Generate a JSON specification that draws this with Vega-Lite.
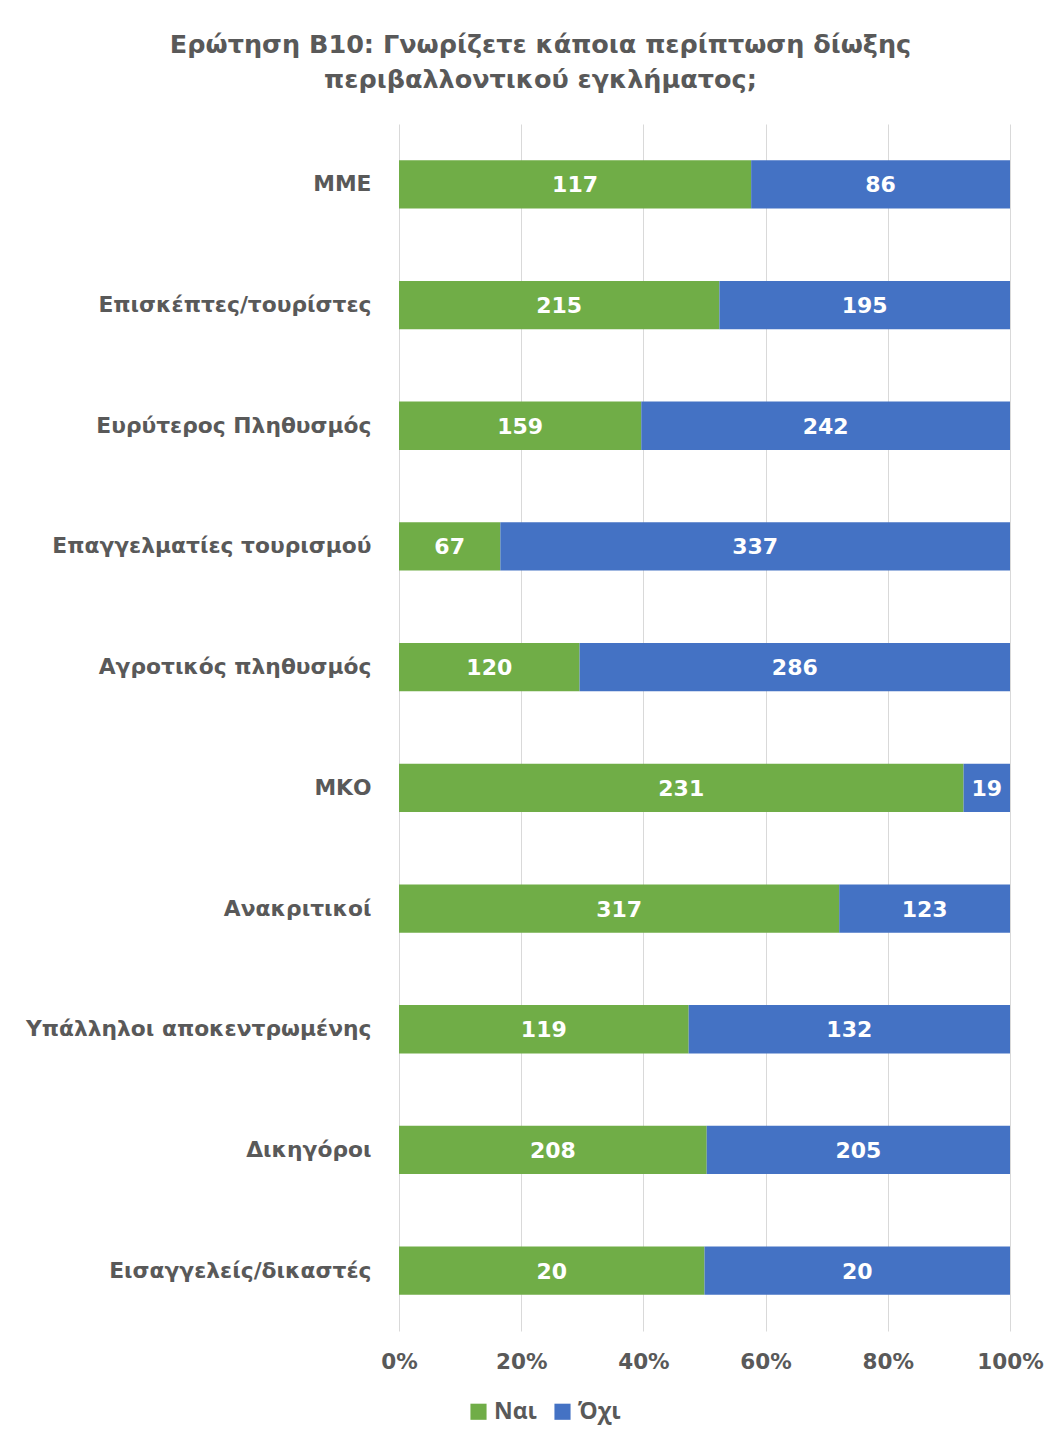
{
  "$schema": "https://vega.github.io/schema/vega-lite/v6.json",
  "autosize": "none",
  "width": 611,
  "height": 1207,
  "padding": {"left": 399, "top": 124, "right": 50, "bottom": 110},
  "background": "white",
  "config": {
    "view": {"stroke": null},
    "font": "DejaVu Sans"
  },
  "title": {
    "text": ["Ερώτηση Β10: Γνωρίζετε κάποια περίπτωση δίωξης", "περιβαλλοντικού εγκλήματος;"],
    "font": "DejaVu Sans",
    "fontSize": 25.5,
    "fontWeight": "bold",
    "color": "#595959",
    "anchor": "middle",
    "dx": -164,
    "lineHeight": 35,
    "offset": 31
  },
  "data": {
    "values": [
      {"cat": "ΜΜΕ", "ans": "Ναι", "n": 117},
      {"cat": "ΜΜΕ", "ans": "Όχι", "n": 86},
      {"cat": "Επισκέπτες/τουρίστες", "ans": "Ναι", "n": 215},
      {"cat": "Επισκέπτες/τουρίστες", "ans": "Όχι", "n": 195},
      {"cat": "Ευρύτερος Πληθυσμός", "ans": "Ναι", "n": 159},
      {"cat": "Ευρύτερος Πληθυσμός", "ans": "Όχι", "n": 242},
      {"cat": "Επαγγελματίες τουρισμού", "ans": "Ναι", "n": 67},
      {"cat": "Επαγγελματίες τουρισμού", "ans": "Όχι", "n": 337},
      {"cat": "Αγροτικός πληθυσμός", "ans": "Ναι", "n": 120},
      {"cat": "Αγροτικός πληθυσμός", "ans": "Όχι", "n": 286},
      {"cat": "ΜΚΟ", "ans": "Ναι", "n": 231},
      {"cat": "ΜΚΟ", "ans": "Όχι", "n": 19},
      {"cat": "Ανακριτικοί", "ans": "Ναι", "n": 317},
      {"cat": "Ανακριτικοί", "ans": "Όχι", "n": 123},
      {"cat": "Υπάλληλοι αποκεντρωμένης", "ans": "Ναι", "n": 119},
      {"cat": "Υπάλληλοι αποκεντρωμένης", "ans": "Όχι", "n": 132},
      {"cat": "Δικηγόροι", "ans": "Ναι", "n": 208},
      {"cat": "Δικηγόροι", "ans": "Όχι", "n": 205},
      {"cat": "Εισαγγελείς/δικαστές", "ans": "Ναι", "n": 20},
      {"cat": "Εισαγγελείς/δικαστές", "ans": "Όχι", "n": 20}
    ]
  },
  "encoding": {
    "y": {
      "field": "cat",
      "type": "nominal",
      "sort": ["ΜΜΕ", "Επισκέπτες/τουρίστες", "Ευρύτερος Πληθυσμός", "Επαγγελματίες τουρισμού", "Αγροτικός πληθυσμός", "ΜΚΟ", "Ανακριτικοί", "Υπάλληλοι αποκεντρωμένης", "Δικηγόροι", "Εισαγγελείς/δικαστές"],
      "scale": {"paddingInner": 0.6, "paddingOuter": 0.3},
      "axis": {
        "title": null,
        "domain": false,
        "ticks": false,
        "labelFont": "DejaVu Sans",
        "labelFontSize": 21.8,
        "labelFontWeight": "bold",
        "labelColor": "#595959",
        "labelPadding": 28,
        "labelLimit": 400
      }
    }
  },
  "layer": [
    {
      "mark": {"type": "bar"},
      "encoding": {
        "x": {
          "field": "n",
          "type": "quantitative",
          "stack": "normalize",
          "scale": {"domain": [0, 1]},
          "axis": {
            "title": null,
            "format": "%",
            "values": [0, 0.2, 0.4, 0.6, 0.8, 1],
            "domain": false,
            "ticks": false,
            "grid": true,
            "gridColor": "#d9d9d9",
            "gridWidth": 1,
            "labelFlush": false,
            "labelFont": "DejaVu Sans",
            "labelFontSize": 21.5,
            "labelFontWeight": "bold",
            "labelColor": "#595959",
            "labelPadding": 20
          }
        },
        "color": {
          "field": "ans",
          "type": "nominal",
          "scale": {"domain": ["Ναι", "Όχι"], "range": ["#70AD47", "#4472C4"]},
          "legend": {
            "title": null,
            "orient": "none",
            "direction": "horizontal",
            "legendX": 68,
            "legendY": 1276,
            "symbolType": "square",
            "symbolSize": 260,
            "symbolStrokeWidth": 0,
            "labelFont": "Open Sans",
            "labelFontSize": 23,
            "labelFontWeight": "bold",
            "labelColor": "#595959",
            "labelOffset": 4,
            "columnPadding": 14
          }
        },
        "order": {"field": "ans", "sort": "descending"}
      }
    },
    {
      "transform": [
        {"stack": "n", "groupby": ["cat"], "sort": [{"field": "ans", "order": "descending"}], "offset": "normalize", "as": ["x0", "x1"]},
        {"fold": ["x0", "x1"], "as": ["k", "v"]}
      ],
      "mark": {"type": "text", "font": "DejaVu Sans", "fontSize": 22, "fontWeight": "bold", "color": "white", "baseline": "middle", "align": "center", "dy": 1},
      "encoding": {
        "x": {"field": "v", "aggregate": "mean", "type": "quantitative"},
        "detail": {"field": "ans", "type": "nominal"},
        "text": {"field": "n", "type": "quantitative"}
      }
    }
  ]
}
